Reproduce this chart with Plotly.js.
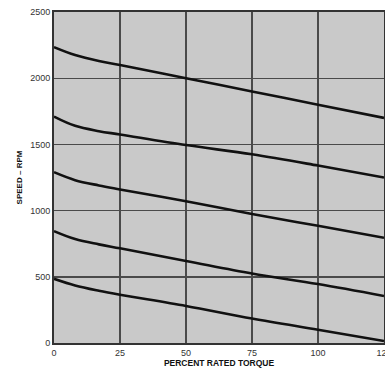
<!DOCTYPE html>
<html>
<head>
<meta charset="utf-8">
<script src="https://cdn.plot.ly/plotly-3.0.1.min.js"></script>
<style>html,body{margin:0;padding:0;background:#fff;}#chart{width:385px;height:370px;}</style>
</head>
<body>
<div id="chart"></div>
<script>
var torque = [0, 8, 17, 25, 50, 75, 100, 125];
var curve1 = [2235, 2175, 2130, 2100, 2000, 1900, 1800, 1700];
var curve2 = [1710, 1640, 1600, 1575, 1495, 1425, 1340, 1250];
var curve3 = [1290, 1230, 1190, 1160, 1070, 975, 885, 795];
var curve4 = [845, 785, 745, 715, 620, 525, 445, 355];
var curve5 = [485, 435, 395, 365, 280, 185, 100, 15];
var xTicks = [0, 25, 50, 75, 100, 125];
var yTicks = [0, 500, 1000, 1500, 2000, 2500];

var series = [curve1, curve2, curve3, curve4, curve5];
var traces = series.map(function (ys) {
  return {
    x: torque, y: ys, type: 'scatter', mode: 'lines',
    line: {color: '#111', width: 2.6, shape: 'spline', smoothing: 1.0},
    hoverinfo: 'skip', showlegend: false
  };
});

var axisFont = {family: 'Liberation Sans, Arial, sans-serif', size: 9, color: '#333'};
var layout = {
  width: 385, height: 370,
  margin: {l: 54, r: 1, t: 12, b: 27},
  paper_bgcolor: '#ffffff',
  plot_bgcolor: '#c9c9c9',
  xaxis: {
    range: [0, 125], tickvals: xTicks, ticktext: xTicks.map(String),
    showgrid: true, gridcolor: '#4a4a4a', gridwidth: 1.4,
    showline: true, linecolor: '#333', linewidth: 2, mirror: true,
    zeroline: false, ticks: '', tickfont: axisFont, ticklabeloverflow: 'allow',
    title: {text: '<b>PERCENT RATED TORQUE</b>', font: {family: 'Liberation Sans, Arial, sans-serif', size: 8.5, color: '#111'}, standoff: 2}
  },
  yaxis: {
    range: [0, 2500], tickvals: yTicks, ticktext: yTicks.map(String),
    showgrid: true, gridcolor: '#4a4a4a', gridwidth: 1.4,
    showline: true, linecolor: '#333', linewidth: 2, mirror: true,
    zeroline: false, ticks: '', tickfont: axisFont, ticklabeloverflow: 'allow',
    title: {text: '<b>SPEED \u2013 RPM</b>', font: {family: 'Liberation Sans, Arial, sans-serif', size: 8, color: '#111'}, standoff: 6}
  }
};

Plotly.newPlot('chart', traces, layout, {displayModeBar: false, staticPlot: true});
</script>
</body>
</html>
